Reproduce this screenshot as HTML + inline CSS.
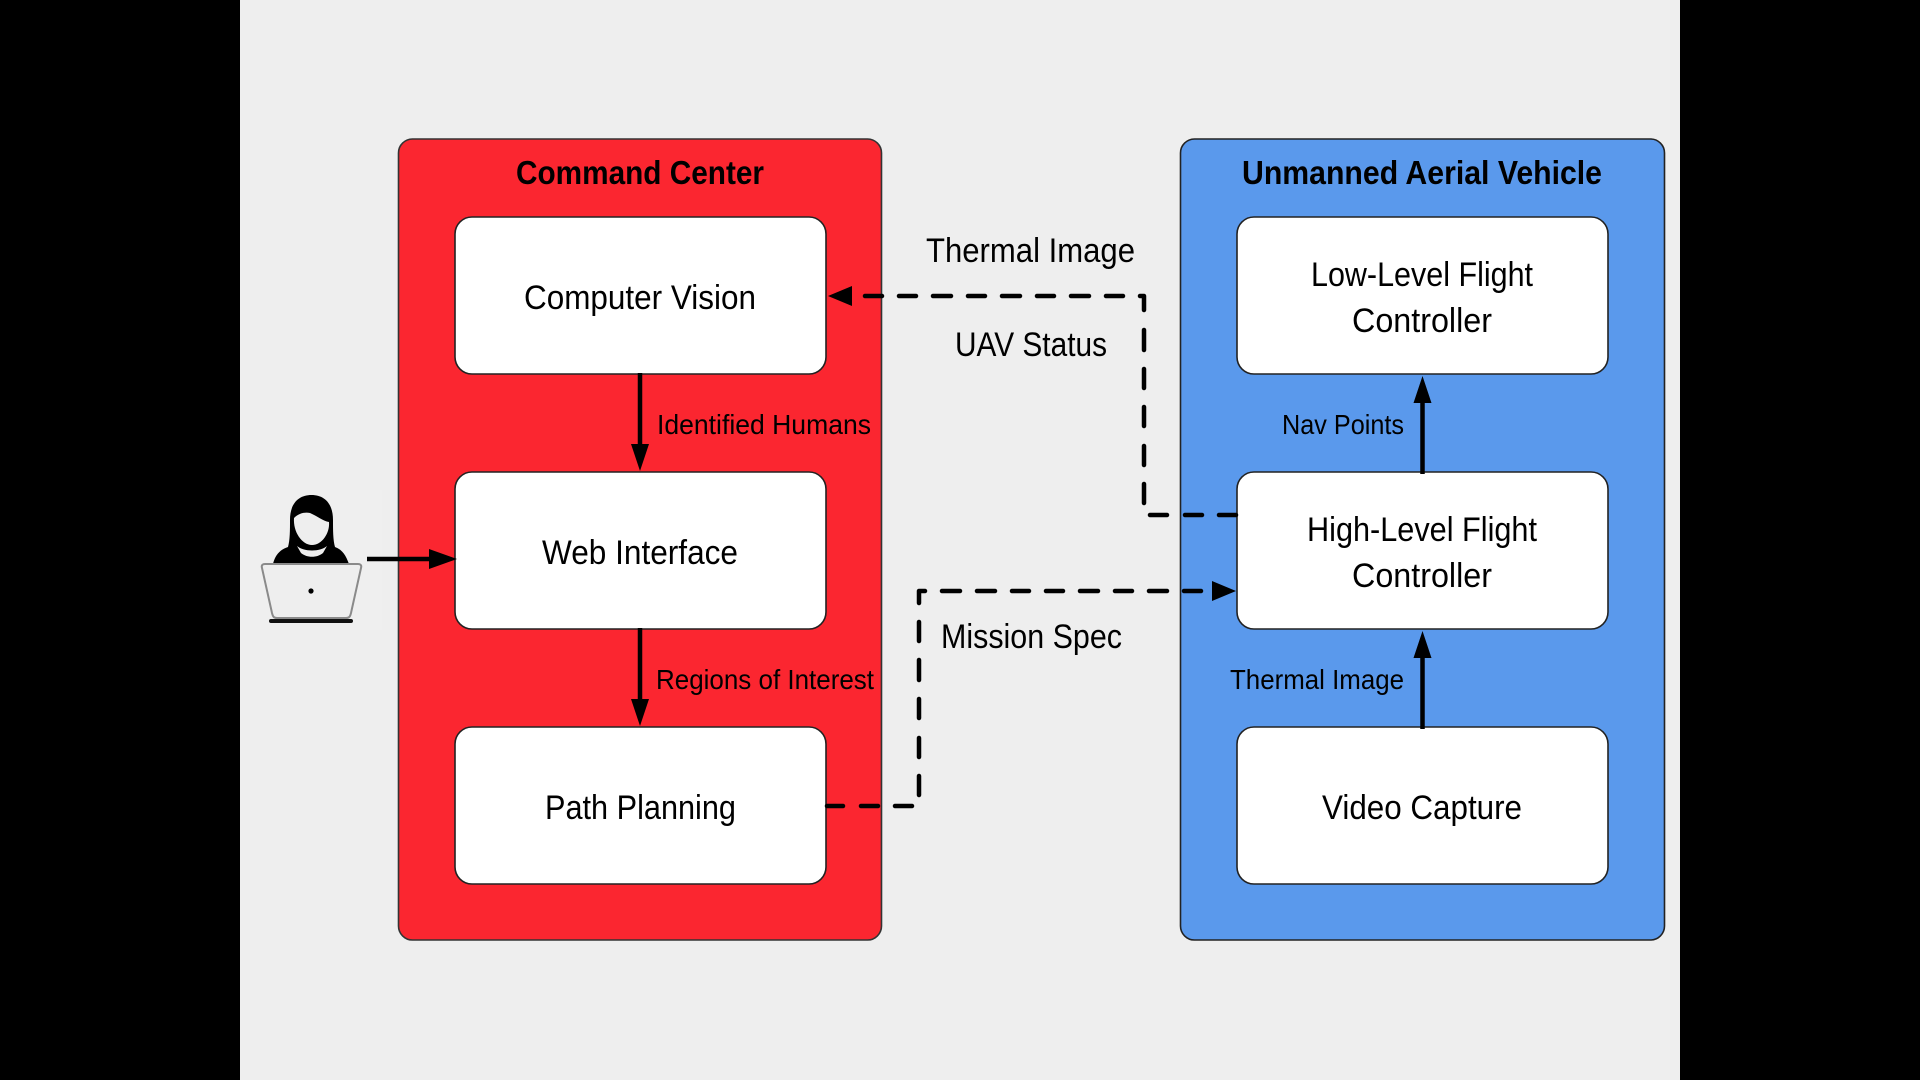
<!DOCTYPE html>
<html><head><meta charset="utf-8"><style>
html,body{margin:0;padding:0;background:#000}
svg{display:block}
text{font-family:"Liberation Sans",Arial,sans-serif;fill:#000}
.b{font-size:34px}.s{font-size:28px}.t{font-size:33px;font-weight:bold}
</style></head><body>
<svg width="1920" height="1080" viewBox="0 0 1920 1080" xmlns="http://www.w3.org/2000/svg">
<rect width="1920" height="1080" fill="#000"/>
<rect x="240" width="1440" height="1080" fill="#eeeeee"/>
<rect x="240" y="490" width="142" height="140" fill="#efefef"/>

<rect x="398.500" y="139" width="483" height="801" rx="14" fill="#fb2630" stroke="#333" stroke-width="1.600"/>
<rect x="1180.500" y="139" width="484" height="801" rx="14" fill="#5a99ec" stroke="#222" stroke-width="1.600"/>

<g fill="#fff" stroke="#222" stroke-width="1.600">
<rect x="455" y="217" width="371" height="157" rx="17"/>
<rect x="455" y="472" width="371" height="157" rx="17"/>
<rect x="455" y="727" width="371" height="157" rx="17"/>
<rect x="1237" y="217" width="371" height="157" rx="17"/>
<rect x="1237" y="472" width="371" height="157" rx="17"/>
<rect x="1237" y="727" width="371" height="157" rx="17"/>
</g>

<g stroke="#000" stroke-width="4.500" fill="none">
<path d="M640 373V446M640 628V701M1422.500 474V401M1422.500 729V656M367 559H431"/>
</g>
<g fill="#000">
<path d="M631 444H649L640 471Z"/>
<path d="M631 699H649L640 726Z"/>
<path d="M1413.500 403H1431.500L1422.500 376Z"/>
<path d="M1413.500 658H1431.500L1422.500 631Z"/>
<path d="M429 549L457 559L429 569Z"/>
<path d="M852 286V306L828 296Z"/>
<path d="M1212 581V601L1236 591Z"/>
</g>

<g stroke="#000" stroke-width="4.500" fill="none" stroke-linecap="round" stroke-linejoin="round">
<path d="M1236 515H1219M1202 515H1185M1167 515H1150"/>
<path d="M1144 503V484M1144 465V446M1144 426V407M1144 388V369M1144 350V330"/>
<path d="M1144 310V296H1140"/>
<path d="M1123 296H1106M1089 296H1071M1054 296H1037M1020 296H1002M985 296H968M951 296H933M916 296H899M882 296H865"/>
<path d="M827 806H843M861 806H878M895 806H912"/>
<path d="M919 795V776M919 757V738M919 718V699M919 680V660M919 641V622"/>
<path d="M919 603V591H925"/>
<path d="M942 591H960M977 591H995M1012 591H1029M1046 591H1063M1080 591H1098M1115 591H1132M1149 591H1167M1184 591H1201"/>
</g>

<g>
<path d="M290 520C290 503 299 495 311.500 495C324 495 333 503 333 520C333 530 333 540 335 547C343 550 346 556 349 564H273C275 556 279 550 288 547C290 540 290 530 290 520Z" fill="#000"/>
<path d="M294 518C299 513 305 512 310 513C317 516 323 521 329 522C330 533 322 545 312 545C302 545 293 532 294 518Z" fill="#eee"/>
<path d="M297 546C304 552 320 552 327 546L323 553C317 558 307 558 301 553Z" fill="#eee"/>
<path d="M262 568C261 565 263 564 265 564H358C360 564 362 565 361 568L351 613C350 617 349 618 346 618H277C274 618 273 617 272 613Z" fill="#eee" stroke="#8a8a8a" stroke-width="2"/>
<circle cx="311" cy="591" r="2.600" fill="#000"/>
<rect x="269" y="619" width="84" height="4" rx="2" fill="#111"/>
</g>

<text class="t" x="516" y="184" textLength="248" lengthAdjust="spacingAndGlyphs">Command Center</text>
<text class="t" x="1242" y="184" textLength="360" lengthAdjust="spacingAndGlyphs">Unmanned Aerial Vehicle</text>

<text class="b" x="524" y="309" textLength="232" lengthAdjust="spacingAndGlyphs">Computer Vision</text>
<text class="b" x="542" y="564" textLength="196" lengthAdjust="spacingAndGlyphs">Web Interface</text>
<text class="b" x="545" y="819" textLength="191" lengthAdjust="spacingAndGlyphs">Path Planning</text>
<text class="b" x="1311" y="286" textLength="222" lengthAdjust="spacingAndGlyphs">Low-Level Flight</text>
<text class="b" x="1352" y="332" textLength="140" lengthAdjust="spacingAndGlyphs">Controller</text>
<text class="b" x="1307" y="541" textLength="230" lengthAdjust="spacingAndGlyphs">High-Level Flight</text>
<text class="b" x="1352" y="587" textLength="140" lengthAdjust="spacingAndGlyphs">Controller</text>
<text class="b" x="1322" y="819" textLength="200" lengthAdjust="spacingAndGlyphs">Video Capture</text>

<text class="s" x="657" y="434" textLength="214" lengthAdjust="spacingAndGlyphs">Identified Humans</text>
<text class="s" x="656" y="689" textLength="218" lengthAdjust="spacingAndGlyphs">Regions of Interest</text>
<text class="s" x="1282" y="434" textLength="122" lengthAdjust="spacingAndGlyphs">Nav Points</text>
<text class="s" x="1230" y="689" textLength="174" lengthAdjust="spacingAndGlyphs">Thermal Image</text>
<text class="b" x="926" y="262" textLength="209" lengthAdjust="spacingAndGlyphs">Thermal Image</text>
<text class="b" x="955" y="356" textLength="152" lengthAdjust="spacingAndGlyphs">UAV Status</text>
<text class="b" x="941" y="648" textLength="181" lengthAdjust="spacingAndGlyphs">Mission Spec</text>
</svg>
</body></html>
